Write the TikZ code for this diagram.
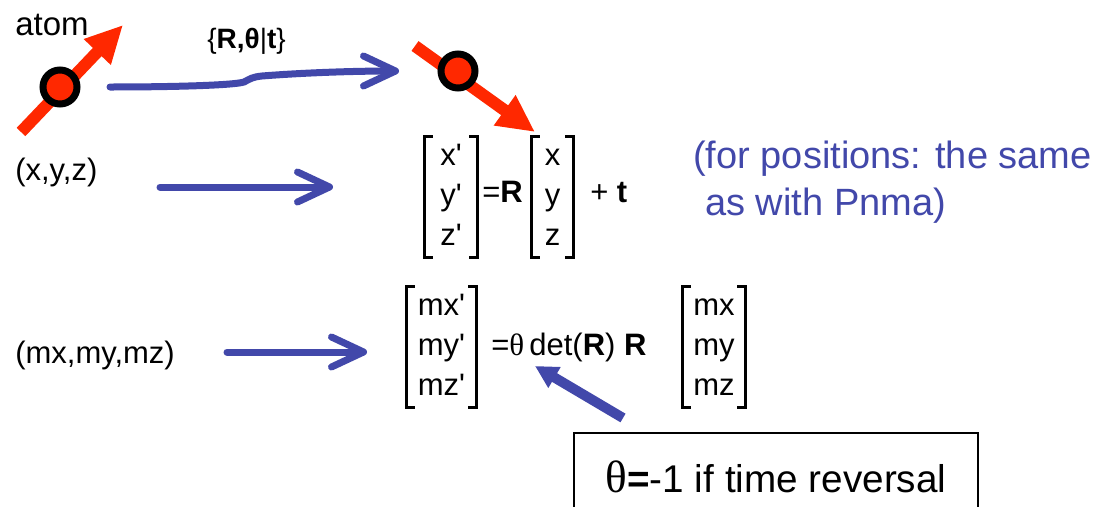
\documentclass[tikz,border=0pt]{standalone}
\usepackage{fontspec}
\setmainfont{Liberation Sans}
\newfontfamily\thetafont{Liberation Serif}
\usetikzlibrary{arrows.meta}

\definecolor{arrowblue}{RGB}{66,72,170}
\definecolor{spinred}{RGB}{255,40,0}

\newcommand{\txt}{\fontsize{23.25}{30}\selectfont}
\newcommand{\pr}{\textquotesingle}
% square brackets round a column node
\newcommand{\sqbr}[1]{%
  \draw[brk] ([xshift=6pt]#1.north west) -- (#1.north west) -- (#1.south west) -- ([xshift=6pt]#1.south west);
  \draw[brk] ([xshift=-6pt]#1.north east) -- (#1.north east) -- (#1.south east) -- ([xshift=-6pt]#1.south east);}

\tikzset{
  plain/.style={anchor=base west, inner sep=0pt, font=\txt},
  col/.style={inner sep=0pt, minimum width=#1, font=\txt},
  brk/.style={line width=2pt},
  spin/.style={draw=spinred, line width=9pt, -{Triangle[length=28pt, width=26pt]}},
  atomdot/.style={circle, draw=black, fill=spinred, line width=5.25pt, minimum size=25.5pt, inner sep=0pt},
  maparrow/.style={draw=arrowblue, line width=5.25pt, line cap=round, -{Straight Barb[length=24pt, width=22.5pt, round]}},
  pointer/.style={draw=arrowblue, line width=7.5pt, -{Triangle[length=17pt, width=17pt]}},
  bluetxt/.style={anchor=base west, inner sep=0pt, text=arrowblue, font=\fontsize{28.5}{34}\selectfont},
  notebox/.style={draw, line width=1.5pt, minimum width=303pt, minimum height=66pt, font=\fontsize{29}{34}\selectfont}
}

\begin{document}
\begin{tikzpicture}[x=0.75pt, y=-0.75pt]
        \useasboundingbox (0,0) rectangle (1104,507);
        \clip (0,0) rectangle (1104,507);

        % Atoms with their moments
        \coordinate (t1) at (21,132);
        \coordinate (h1) at (123,25);
        \coordinate (t2) at (415,46);
        \coordinate (h2) at (535,132);
        \draw[spin] (t1) -- (h1);
        \draw[spin] (t2) -- (h2);
        \node[atomdot] (a1) at (60,87) {};
        \node[atomdot] (a2) at (458,71) {};
        \node[plain, font=\fontsize{24.75}{30}\selectfont] (atomlbl) at (15,35) {atom};

        % Operation
        \coordinate (s1) at (110,87);
        \coordinate (e1) at (399,71);
        \draw[maparrow] (s1) .. controls (180,87) and (235,85) .. (244,82)
            .. controls (250,79) and (252,77) .. (262,76)
            .. controls (300,73) and (350,71) .. (e1);
        \node[plain, font=\fontsize{21}{24}\selectfont] (op) at (207,48) {\{\textbf{R,θ}|\textbf{t}\}};

        % Positions
        \node[plain] (xyz) at (15,180) {(x,y,z)};
        \coordinate (s2) at (160,187);
        \coordinate (e2) at (333,187);
        \draw[maparrow] (s2) -- (e2);
        \node[col=39pt] (m1) at (451,197) {\begin{tabular}{@{}c@{}}x\pr\\y\pr\\z\pr\end{tabular}};
        \node[plain] (eqR) at (482,202) {=\textbf{R}};
        \node[col=31pt] (m2) at (552.5,197) {\begin{tabular}{@{}c@{}}x\\y\\z\end{tabular}};
        \node[plain] (plust) at (590,202) {+ \textbf{t}};
        \sqbr{m1}
        \sqbr{m2}
        \node[bluetxt] (note1) at (693,168) {(for positions: the same};
        \node[bluetxt] (note2) at (705,215) {as with Pnma)};

        % Moments
        \node[plain] (mxyz) at (15,363) {(mx,my,mz)};
        \coordinate (s3) at (227,352);
        \coordinate (e3) at (367,352);
        \draw[maparrow] (s3) -- (e3);
        \node[col=52pt] (m3) at (441.5,347) {\begin{tabular}{@{}c@{}}mx\pr\\my\pr\\mz\pr\end{tabular}};
        \node[plain] (eqdet) at (491,355) {={\thetafont θ}\,det(\textbf{R}) \textbf{R}};
        \node[col=46.5pt] (m4) at (714,347) {\begin{tabular}{@{}c@{}}mx\\my\\mz\end{tabular}};
        \sqbr{m3}
        \sqbr{m4}

        % Time reversal note
        \node[notebox, anchor=north west] (rev) at (573,432) {{\fontsize{34}{34}\thetafont θ}\textbf{=}-1 if time reversal};
        \coordinate (p1) at (623,418);
        \coordinate (p2) at (535,366);
        \draw[pointer] (p1) -- (p2);
    \end{tikzpicture}
\end{document}
